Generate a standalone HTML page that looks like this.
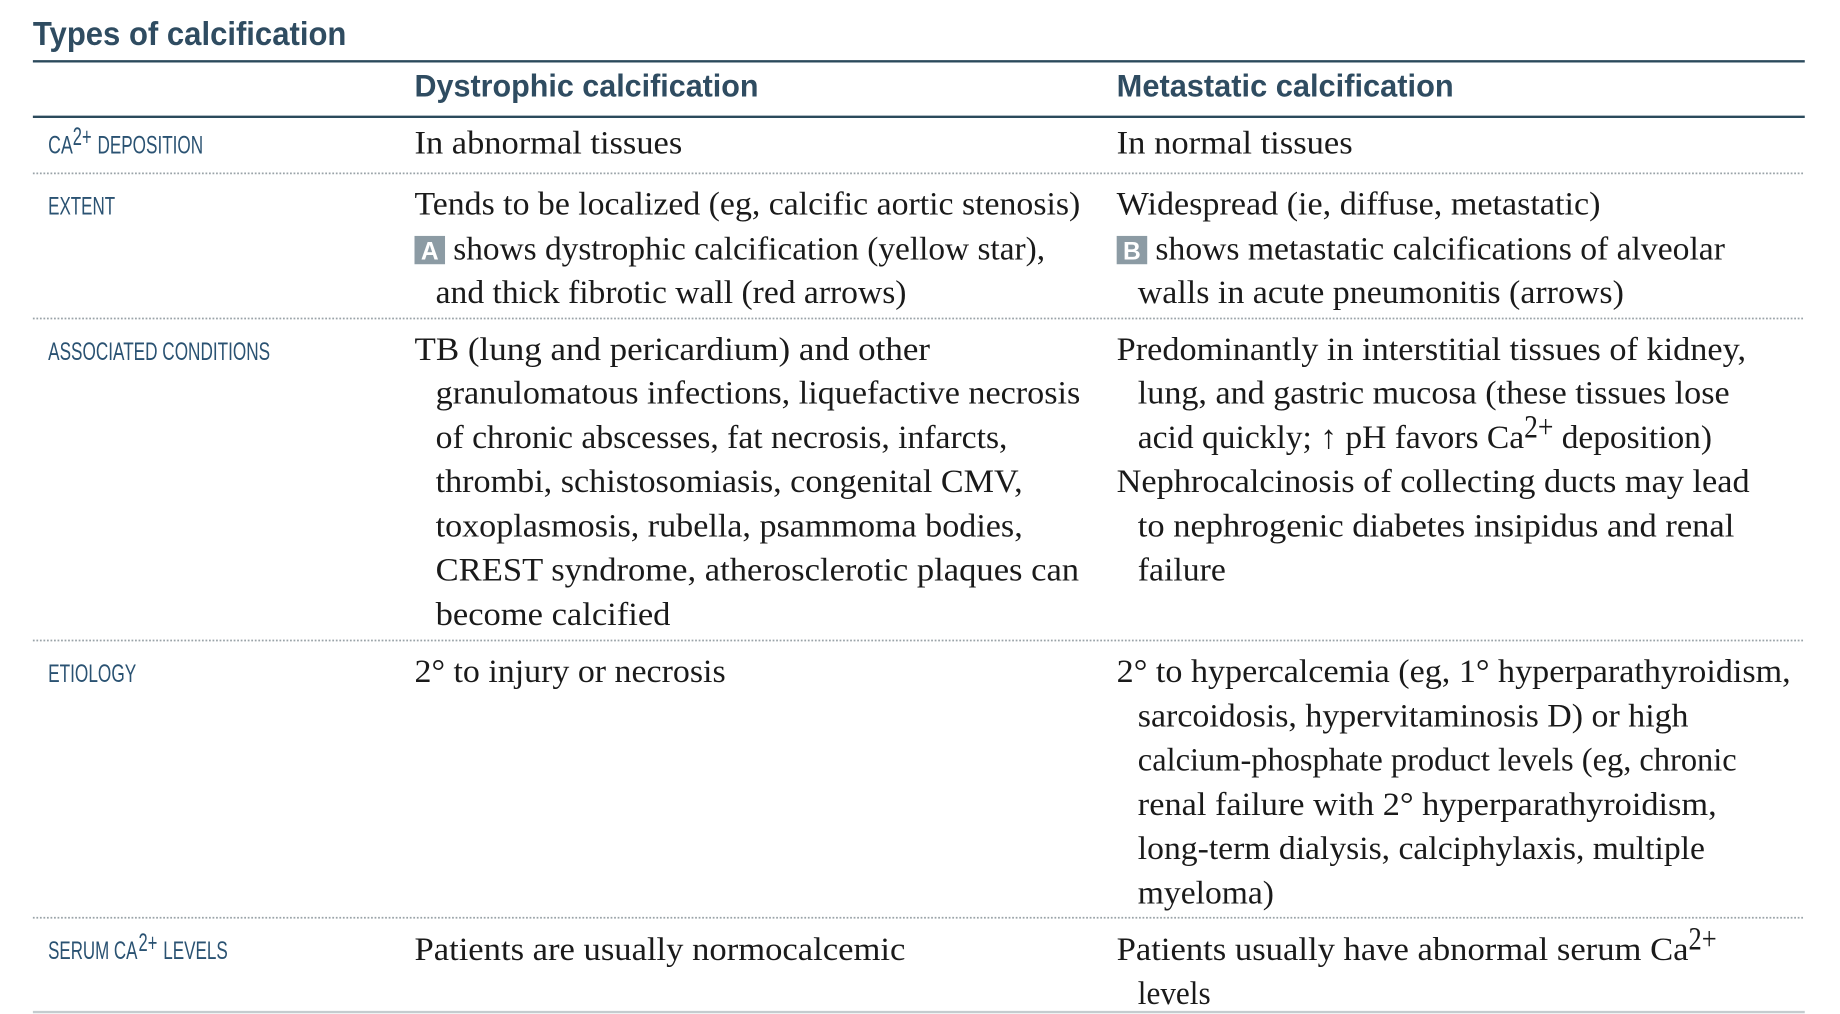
<!DOCTYPE html>
<html><head><meta charset="utf-8"><style>
html,body{margin:0;padding:0;background:#fff;}
svg{display:block;}
.t{font-family:"Liberation Serif",serif;font-size:28px;fill:#1a1a1a;}
.l{font-family:"Liberation Sans",sans-serif;font-size:21px;fill:#2a5272;}
.h{font-family:"Liberation Sans",sans-serif;font-weight:bold;fill:#2f4c61;}
</style></head><body>
<svg width="1840" height="1014" viewBox="0 0 1567 859.6" preserveAspectRatio="none" xmlns="http://www.w3.org/2000/svg">
<text class="h" x="28" y="38" font-size="28" textLength="267" lengthAdjust="spacingAndGlyphs" fill="#1e3a4c">Types of calcification</text>
<line x1="28" y1="52" x2="1537" y2="52" stroke="#2b4a5c" stroke-width="2"/>
<text class="h" x="353" y="82" font-size="27" textLength="293" lengthAdjust="spacingAndGlyphs">Dystrophic calcification</text>
<text class="h" x="951" y="82" font-size="27" textLength="287" lengthAdjust="spacingAndGlyphs">Metastatic calcification</text>
<line x1="28" y1="99" x2="1537" y2="99" stroke="#2b4a5c" stroke-width="2"/>
<g stroke="#9aa3a8" stroke-width="1.5" stroke-dasharray="1.5,1.5">
<line x1="28" y1="147" x2="1537" y2="147"/><line x1="28" y1="270" x2="1537" y2="270"/><line x1="28" y1="543" x2="1537" y2="543"/><line x1="28" y1="778" x2="1537" y2="778"/>
</g>
<line x1="28" y1="858" x2="1537" y2="858" stroke="#c5cccf" stroke-width="2"/>

<g>
<text class="l" x="41" y="130" textLength="21" lengthAdjust="spacingAndGlyphs">CA</text><text class="l" x="62" y="123" font-size="14" textLength="16" lengthAdjust="spacingAndGlyphs">2+</text><text class="l" x="83" y="130" textLength="90" lengthAdjust="spacingAndGlyphs">DEPOSITION</text>
<text class="l" x="41" y="182" textLength="57" lengthAdjust="spacingAndGlyphs">EXTENT</text>
<text class="l" x="41" y="305" textLength="189" lengthAdjust="spacingAndGlyphs">ASSOCIATED CONDITIONS</text>
<text class="l" x="41" y="578" textLength="75" lengthAdjust="spacingAndGlyphs">ETIOLOGY</text>
<text class="l" x="41" y="813" textLength="76" lengthAdjust="spacingAndGlyphs">SERUM CA</text><text class="l" x="118" y="806" font-size="14" textLength="16" lengthAdjust="spacingAndGlyphs">2+</text><text class="l" x="139" y="813" textLength="55" lengthAdjust="spacingAndGlyphs">LEVELS</text>
</g>

<g>
<text class="t" x="353" y="130" textLength="228" lengthAdjust="spacingAndGlyphs">In abnormal tissues</text>
<text class="t" x="353" y="182" textLength="567" lengthAdjust="spacingAndGlyphs">Tends to be localized (eg, calcific aortic stenosis)</text>
<rect x="353" y="200" width="26" height="24" fill="#8c9ba4"/>
<text x="366" y="220" text-anchor="middle" font-family="Liberation Sans,sans-serif" font-weight="bold" font-size="21" fill="#fff">A</text>
<text class="t" x="386" y="220" textLength="504" lengthAdjust="spacingAndGlyphs">shows dystrophic calcification (yellow star),</text>
<text class="t" x="371" y="257" textLength="401" lengthAdjust="spacingAndGlyphs">and thick fibrotic wall (red arrows)</text>
<text class="t" x="353" y="305" textLength="439" lengthAdjust="spacingAndGlyphs">TB (lung and pericardium) and other</text>
<text class="t" x="371" y="342" textLength="549" lengthAdjust="spacingAndGlyphs">granulomatous infections, liquefactive necrosis</text>
<text class="t" x="371" y="380" textLength="487" lengthAdjust="spacingAndGlyphs">of chronic abscesses, fat necrosis, infarcts,</text>
<text class="t" x="371" y="417" textLength="500" lengthAdjust="spacingAndGlyphs">thrombi, schistosomiasis, congenital CMV,</text>
<text class="t" x="371" y="455" textLength="500" lengthAdjust="spacingAndGlyphs">toxoplasmosis, rubella, psammoma bodies,</text>
<text class="t" x="371" y="492" textLength="548" lengthAdjust="spacingAndGlyphs">CREST syndrome, atherosclerotic plaques can</text>
<text class="t" x="371" y="530" textLength="200" lengthAdjust="spacingAndGlyphs">become calcified</text>
<text class="t" x="353" y="578" textLength="265" lengthAdjust="spacingAndGlyphs">2° to injury or necrosis</text>
<text class="t" x="353" y="814" textLength="418" lengthAdjust="spacingAndGlyphs">Patients are usually normocalcemic</text>
</g>

<g>
<text class="t" x="951" y="130" textLength="201" lengthAdjust="spacingAndGlyphs">In normal tissues</text>
<text class="t" x="951" y="182" textLength="412" lengthAdjust="spacingAndGlyphs">Widespread (ie, diffuse, metastatic)</text>
<rect x="951" y="200" width="26" height="24" fill="#8c9ba4"/>
<text x="964" y="220" text-anchor="middle" font-family="Liberation Sans,sans-serif" font-weight="bold" font-size="21" fill="#fff">B</text>
<text class="t" x="984" y="220" textLength="485" lengthAdjust="spacingAndGlyphs">shows metastatic calcifications of alveolar</text>
<text class="t" x="969" y="257" textLength="414" lengthAdjust="spacingAndGlyphs">walls in acute pneumonitis (arrows)</text>
<text class="t" x="951" y="305" textLength="536" lengthAdjust="spacingAndGlyphs">Predominantly in interstitial tissues of kidney,</text>
<text class="t" x="969" y="342" textLength="504" lengthAdjust="spacingAndGlyphs">lung, and gastric mucosa (these tissues lose</text>
<text class="t" x="969" y="380" textLength="329" lengthAdjust="spacingAndGlyphs">acid quickly; ↑ pH favors Ca</text>
<text class="t" x="1298" y="371" font-size="17" textLength="25" lengthAdjust="spacingAndGlyphs">2+</text>
<text class="t" x="1330" y="380" textLength="128" lengthAdjust="spacingAndGlyphs">deposition)</text>
<text class="t" x="951" y="417" textLength="539" lengthAdjust="spacingAndGlyphs">Nephrocalcinosis of collecting ducts may lead</text>
<text class="t" x="969" y="455" textLength="508" lengthAdjust="spacingAndGlyphs">to nephrogenic diabetes insipidus and renal</text>
<text class="t" x="969" y="492" textLength="75" lengthAdjust="spacingAndGlyphs">failure</text>
<text class="t" x="951" y="578" textLength="574" lengthAdjust="spacingAndGlyphs">2° to hypercalcemia (eg, 1° hyperparathyroidism,</text>
<text class="t" x="969" y="616" textLength="469" lengthAdjust="spacingAndGlyphs">sarcoidosis, hypervitaminosis D) or high</text>
<text class="t" x="969" y="653" textLength="510" lengthAdjust="spacingAndGlyphs">calcium-phosphate product levels (eg, chronic</text>
<text class="t" x="969" y="691" textLength="493" lengthAdjust="spacingAndGlyphs">renal failure with 2° hyperparathyroidism,</text>
<text class="t" x="969" y="728" textLength="483" lengthAdjust="spacingAndGlyphs">long-term dialysis, calciphylaxis, multiple</text>
<text class="t" x="969" y="766" textLength="116" lengthAdjust="spacingAndGlyphs">myeloma)</text>
<text class="t" x="951" y="814" textLength="487" lengthAdjust="spacingAndGlyphs">Patients usually have abnormal serum Ca</text>
<text class="t" x="1438" y="805" font-size="17" textLength="24" lengthAdjust="spacingAndGlyphs">2+</text>
<text class="t" x="969" y="851" textLength="62" lengthAdjust="spacingAndGlyphs">levels</text>
</g>
</svg>
</body></html>
